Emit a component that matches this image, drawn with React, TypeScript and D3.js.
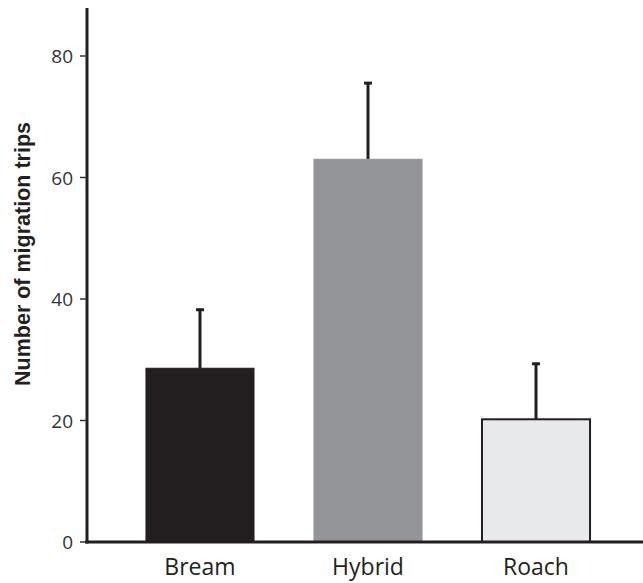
import React from "react";
import * as d3 from "d3";

const categories = ["Bream", "Hybrid", "Roach"];
const means = [28.6, 63.0, 20.2];
const upperErr = [38.4, 75.7, 29.5];
const yTicks = [0, 20, 40, 60, 80];
const fills = ["#231f20", "#939598", "#e8e9ea"];
const strokes = ["#231f20", "#939598", "#231f20"];

export default function App() {
  const W = 643, H = 583;
  const x = d3.scaleBand<string>().domain(categories).range([87, 649]).paddingInner(0.345).paddingOuter(0.345);
  const y = d3.scaleLinear().domain([0, 80]).range([542, 56]);
  const tickColor = "#333";
  return (
    <svg width={W} height={H} style={{ position: "absolute", left: 0, top: 0, background: "#fff" }}>
      {categories.map((c, i) => {
        const cx = (x(c) as number) + x.bandwidth() / 2;
        return (
          <g key={c}>
            <line x1={cx} x2={cx} y1={y(upperErr[i])} y2={y(means[i])} stroke="#231f20" strokeWidth={3} />
            <line x1={cx - 4} x2={cx + 4} y1={y(upperErr[i]) + 1} y2={y(upperErr[i]) + 1} stroke="#231f20" strokeWidth={3} />
            <rect
              x={(x(c) as number) + 1}
              y={y(means[i])}
              width={x.bandwidth() - 2}
              height={y(0) - y(means[i])}
              fill={fills[i]}
              stroke={strokes[i]}
              strokeWidth={i === 2 ? 2 : 1}
            />
            <text x={cx} y={575} textAnchor="middle" fontFamily="Open Sans" fontSize={23} fill="#231f20">{c}</text>
          </g>
        );
      })}
      <line x1={87} x2={87} y1={8} y2={543.5} stroke="#231f20" strokeWidth={3} />
      <line x1={85} x2={643} y1={542} y2={542} stroke="#231f20" strokeWidth={3} />
      {yTicks.map((t) => (
        <g key={t}>
          <line x1={80} x2={87} y1={y(t)} y2={y(t)} stroke={tickColor} strokeWidth={1.5} />
          <text x={73} y={y(t) + 7} textAnchor="end" fontFamily="Open Sans" fontSize={19} fill={tickColor}>{t}</text>
        </g>
      ))}
      <text
        transform={`translate(30,254) rotate(-90)`}
        textAnchor="middle"
        fontFamily="Liberation Sans, Arial"
        fontWeight="bold"
        fontSize={21.5}
        fill="#231f20"
      >Number of migration trips</text>
    </svg>
  );
}
